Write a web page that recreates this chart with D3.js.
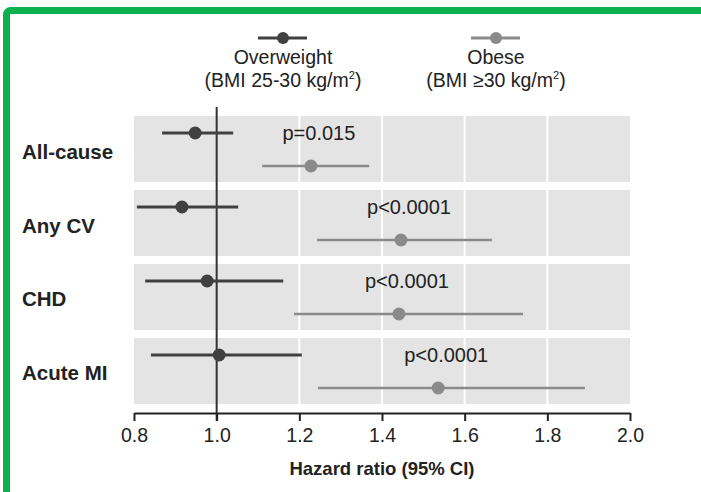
<!DOCTYPE html>
<html><head><meta charset="utf-8">
<script src="https://cdn.jsdelivr.net/npm/d3@7"></script>
<style>
html,body{margin:0;padding:0;background:#fff;}
svg{display:block;font-family:Arial,"Liberation Sans",Helvetica,sans-serif;}
</style></head>
<body>
<svg id="chart" width="701" height="492"></svg>
<script>
// ---- data ----
const categories = ["All-cause", "Any CV", "CHD", "Acute MI"];
const overweightHR = [0.948, 0.916, 0.977, 1.006];
const overweightLo = [0.868, 0.807, 0.827, 0.841];
const overweightHi = [1.040, 1.052, 1.161, 1.206];
const obeseHR = [1.228, 1.446, 1.441, 1.536];
const obeseLo = [1.110, 1.243, 1.187, 1.245];
const obeseHi = [1.369, 1.666, 1.741, 1.891];
const pValues = ["p=0.015", "p<0.0001", "p<0.0001", "p<0.0001"];
const xTicks = [0.8, 1.0, 1.2, 1.4, 1.6, 1.8, 2.0];
const gridValues = [1.2, 1.4, 1.6, 1.8];

const svg = d3.select("#chart");
const C_OW = "#404040", C_OB = "#8a8a8a", BAND = "#e4e4e4";

const x = d3.scaleLinear().domain([0.8, 2.0]).range([134, 630]);
const y = d3.scaleBand().domain(categories).range([116, 404]).paddingInner(0.108).paddingOuter(0);

// green frame
svg.append("rect").attr("x", 6.5).attr("y", 10.5).attr("width", 800).attr("height", 600)
  .attr("rx", 4).attr("fill", "none").attr("stroke", "#0bb04f").attr("stroke-width", 7);

// bands
svg.append("g").selectAll("rect").data(categories).join("rect")
  .attr("x", x(0.8)).attr("width", x(2.0) - x(0.8))
  .attr("y", d => y(d)).attr("height", y.bandwidth())
  .attr("fill", BAND);

// white gridlines within bands
categories.forEach(c => {
  svg.append("g").selectAll("line").data(gridValues).join("line")
    .attr("x1", d => x(d)).attr("x2", d => x(d))
    .attr("y1", y(c)).attr("y2", y(c) + y.bandwidth())
    .attr("stroke", "#fff").attr("stroke-width", 2);
});

// reference line at 1.0
svg.append("line").attr("x1", x(1)).attr("x2", x(1)).attr("y1", 107).attr("y2", 421)
  .attr("stroke", "#333").attr("stroke-width", 2);

// axis
const axis = d3.axisBottom(x).tickValues(xTicks).tickFormat(d3.format(".1f")).tickSize(8).tickSizeOuter(0);
const ag = svg.append("g").attr("transform", "translate(0,413)").call(axis);
ag.select(".domain").attr("stroke", "#222").attr("stroke-width", 2);
ag.selectAll(".tick line").attr("stroke", "#222").attr("stroke-width", 2);
ag.selectAll(".tick text").attr("font-size", 19.5).attr("fill", "#222").attr("dy", "0.9em")
  .attr("font-family", "Arial, 'Liberation Sans', sans-serif");

svg.append("text").attr("x", x(1.4)).attr("y", 475).attr("text-anchor", "middle")
  .attr("font-size", 18.5).attr("font-weight", "bold").attr("fill", "#222")
  .text("Hazard ratio (95% CI)");

// category labels
svg.append("g").selectAll("text").data(categories).join("text")
  .attr("x", 22).attr("y", d => y(d) + y.bandwidth() / 2 + 2)
  .attr("dominant-baseline", "central")
  .attr("font-size", 20.5).attr("font-weight", "bold").attr("fill", "#222")
  .text(d => d);

// series
const ow = categories.map((c, i) => ({c, hr: overweightHR[i], lo: overweightLo[i], hi: overweightHi[i]}));
const ob = categories.map((c, i) => ({c, hr: obeseHR[i], lo: obeseLo[i], hi: obeseHi[i], p: pValues[i]}));
const owOff = 17, obOff = 50;

function drawSeries(data, off, color, sw, r) {
  const g = svg.append("g");
  g.selectAll("line").data(data).join("line")
    .attr("x1", d => x(d.lo)).attr("x2", d => x(d.hi))
    .attr("y1", d => y(d.c) + off).attr("y2", d => y(d.c) + off)
    .attr("stroke", color).attr("stroke-width", sw);
  g.selectAll("circle").data(data).join("circle")
    .attr("cx", d => x(d.hr)).attr("cy", d => y(d.c) + off).attr("r", r)
    .attr("fill", color);
}
drawSeries(ow, owOff, C_OW, 3, 6.5);
drawSeries(ob, obOff, C_OB, 2.5, 6.5);

// p-values
svg.append("g").selectAll("text").data(ob).join("text")
  .attr("x", d => x(d.hr) + 8).attr("y", d => y(d.c) + owOff)
  .attr("dominant-baseline", "central").attr("text-anchor", "middle")
  .attr("font-size", 20).attr("fill", "#222")
  .text(d => d.p);

// legend
const legend = [
  {cx: 283, color: C_OW, l1: "Overweight", l2a: "(BMI 25-30 kg/m", l2b: ")"},
  {cx: 496, color: C_OB, l1: "Obese", l2a: "(BMI \u226530 kg/m", l2b: ")"}
];
legend.forEach(L => {
  const g = svg.append("g");
  g.append("line").attr("x1", L.cx - 25).attr("x2", L.cx + 24).attr("y1", 38).attr("y2", 38)
    .attr("stroke", L.color).attr("stroke-width", 3);
  g.append("circle").attr("cx", L.cx).attr("cy", 38).attr("r", 6).attr("fill", L.color);
  g.append("text").attr("x", L.cx).attr("y", 64).attr("text-anchor", "middle")
    .attr("font-size", 19.5).attr("fill", "#222").text(L.l1);
  const t = g.append("text").attr("x", L.cx).attr("y", 87).attr("text-anchor", "middle")
    .attr("font-size", 19.5).attr("fill", "#222");
  t.append("tspan").text(L.l2a);
  t.append("tspan").attr("font-size", 11).attr("dy", -8).text("2");
  t.append("tspan").attr("dy", 8).text(L.l2b);
});
</script>
</body></html>
